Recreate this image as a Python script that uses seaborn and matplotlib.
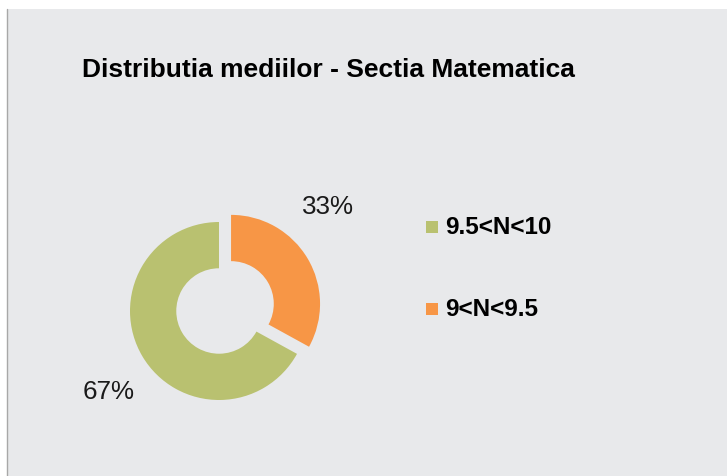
import matplotlib
matplotlib.use("Agg")
import matplotlib.pyplot as plt
import matplotlib.patches as mpatches
import seaborn as sns

# Data
categories = ["9.5<N<10", "9<N<9.5"]
values = [67, 33]
pct_labels = ["67%", "33%"]
colors = ["#B9C170", "#F79646"]
title = "Distributia mediilor - Sectia Matematica"

sns.set_theme(style="white")
plt.rcParams['font.family'] = ['Liberation Sans', 'DejaVu Sans']

W, H = 727, 476
fig = plt.figure(figsize=(W / 100, H / 100), dpi=100, facecolor="white")
ax = fig.add_axes([0, 0, 1, 1])

# pie: orange first clockwise from 12 o'clock, then green
order = [1, 0]
R = 89
cx, cy = 219, H - 311
wedges, _ = ax.pie([values[i] for i in order], colors=[colors[i] for i in order],
                   startangle=90, counterclock=False, radius=R, center=(cx, cy),
                   explode=[14, 0], wedgeprops=dict(width=R * 0.52, edgecolor="none"),
                   frame=True)
ax.set_xlim(0, W)
ax.set_ylim(0, H)
ax.set_aspect("equal")
ax.axis("off")

# panel background
ax.add_patch(mpatches.Rectangle((7, 0), W - 7, H - 9, facecolor="#E8E9EB",
                                edgecolor="none", zorder=0))
ax.plot([6.5, 6.5], [0, H - 9], color="#A8A8A8", lw=1, zorder=1)

# percentage labels
ax.text(328, H - 207, pct_labels[1], fontsize=18.7, ha="center", va="center", color="#1a1a1a")
ax.text(109, H - 392, pct_labels[0], fontsize=18.7, ha="center", va="center", color="#1a1a1a")

# title
ax.text(82, H - 70, title, fontsize=19, fontweight="bold", ha="left", va="center",
        color="black")

# legend
leg_y = [H - 227, H - 309]
for i, cat in enumerate(categories):
    ax.add_patch(mpatches.Rectangle((426, leg_y[i] - 6), 12, 12, facecolor=colors[i],
                                    edgecolor="none"))
    ax.text(445, leg_y[i], cat, fontsize=17.5, fontweight="bold", ha="left", va="center",
            color="black")

fig.savefig("out.png", dpi=100, facecolor="white")
